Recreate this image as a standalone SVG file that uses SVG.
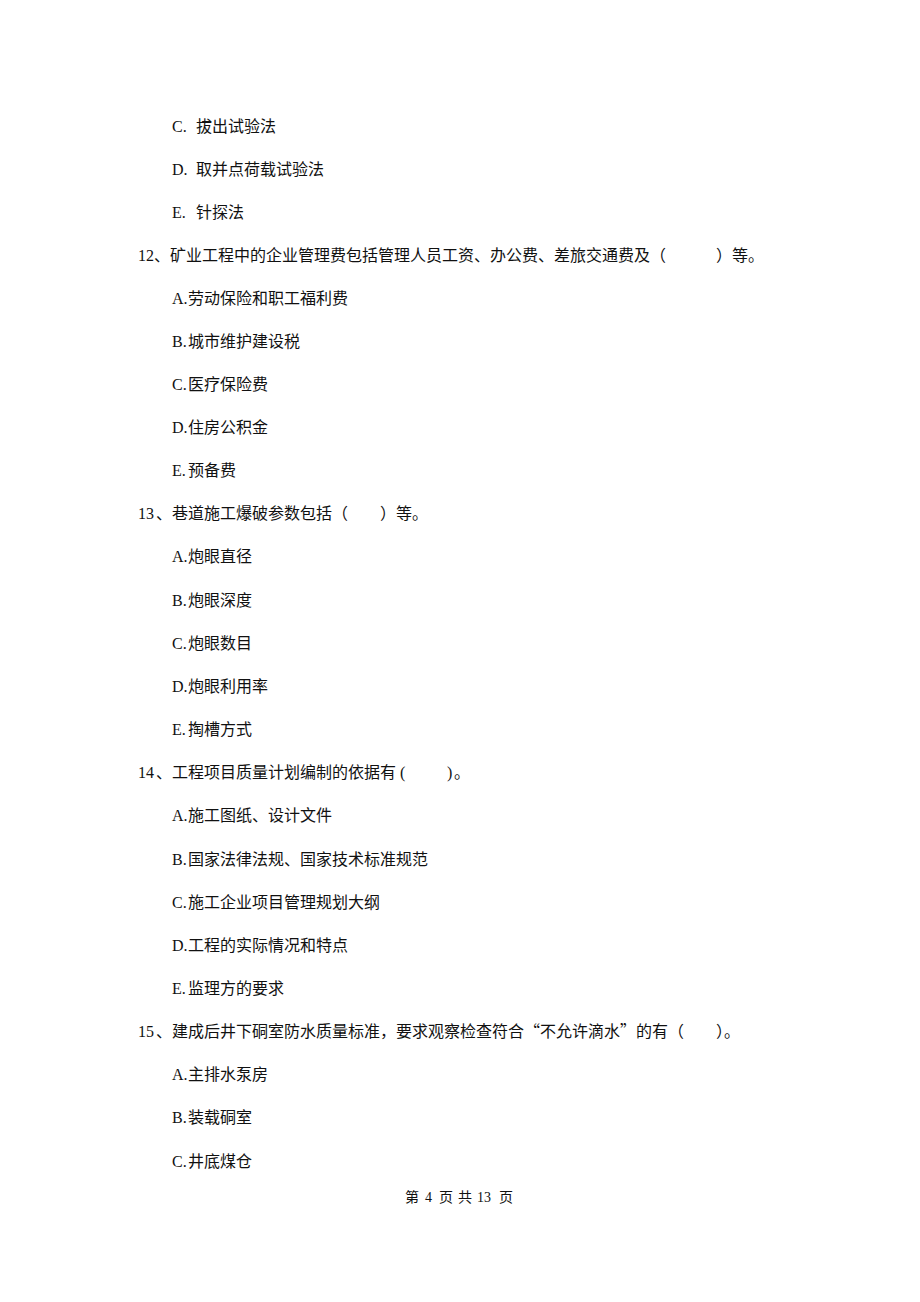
<svg xmlns="http://www.w3.org/2000/svg" width="920" height="1302" viewBox="0 0 920 1302">
<style>
text{font-family:"Liberation Serif","Noto Sans CJK SC",serif;font-size:16px;fill:#111;}
.ft{font-size:14px;}
.cjk{font-family:"Noto Sans CJK SC",sans-serif;}
</style>
<rect width="920" height="1302" fill="#fff"/>
<g id="q11-tail">
<text y="132"><tspan x="172">C.</tspan><tspan x="196">拔出试验法</tspan></text>
<text y="175"><tspan x="172">D.</tspan><tspan x="196">取并点荷载试验法</tspan></text>
<text y="218"><tspan x="172">E.</tspan><tspan x="196">针探法</tspan></text>
</g>
<g id="q12">
<text y="261"><tspan x="138">12</tspan><tspan x="154">、矿业工程中的企业管理费包括管理人员工资、办公费、差旅交通费及（</tspan><tspan x="716">）等。</tspan></text>
<text y="304"><tspan x="172">A.</tspan><tspan x="188">劳动保险和职工福利费</tspan></text>
<text y="347"><tspan x="172">B.</tspan><tspan x="188">城市维护建设税</tspan></text>
<text y="390"><tspan x="172">C.</tspan><tspan x="188">医疗保险费</tspan></text>
<text y="433"><tspan x="172">D.</tspan><tspan x="188">住房公积金</tspan></text>
<text y="476"><tspan x="172">E.</tspan><tspan x="188">预备费</tspan></text>
</g>
<g id="q13">
<text y="519"><tspan x="138">13</tspan><tspan x="156">、巷道施工爆破参数包括（</tspan><tspan x="380">）等。</tspan></text>
<text y="562"><tspan x="172">A.</tspan><tspan x="188">炮眼直径</tspan></text>
<text y="606"><tspan x="172">B.</tspan><tspan x="188">炮眼深度</tspan></text>
<text y="649"><tspan x="172">C.</tspan><tspan x="188">炮眼数目</tspan></text>
<text y="692"><tspan x="172">D.</tspan><tspan x="188">炮眼利用率</tspan></text>
<text y="735"><tspan x="172">E.</tspan><tspan x="188">掏槽方式</tspan></text>
</g>
<g id="q14">
<text y="778"><tspan x="138">14</tspan><tspan x="156">、工程项目质量计划编制的依据有</tspan><tspan x="400">(</tspan><tspan x="447">)</tspan><tspan x="454">。</tspan></text>
<text y="821"><tspan x="172">A.</tspan><tspan x="188">施工图纸、设计文件</tspan></text>
<text y="865"><tspan x="172">B.</tspan><tspan x="188">国家法律法规、国家技术标准规范</tspan></text>
<text y="908"><tspan x="172">C.</tspan><tspan x="188">施工企业项目管理规划大纲</tspan></text>
<text y="951"><tspan x="172">D.</tspan><tspan x="188">工程的实际情况和特点</tspan></text>
<text y="994"><tspan x="172">E.</tspan><tspan x="188">监理方的要求</tspan></text>
</g>
<g id="q15">
<text y="1037"><tspan x="138">15</tspan><tspan x="156">、建成后井下硐室防水质量标准，要求观察检查符合</tspan><tspan x="524" class="cjk">“</tspan><tspan x="540">不允许滴水</tspan><tspan x="620" class="cjk">”</tspan><tspan x="636">的有（</tspan><tspan x="716">）。</tspan></text>
<text y="1080"><tspan x="172">A.</tspan><tspan x="188">主排水泵房</tspan></text>
<text y="1123"><tspan x="172">B.</tspan><tspan x="188">装载硐室</tspan></text>
<text y="1167"><tspan x="172">C.</tspan><tspan x="188">井底煤仓</tspan></text>
</g>
<g id="footer">
<text class="ft" y="1202"><tspan x="405">第</tspan><tspan x="425">4</tspan><tspan x="439">页</tspan><tspan x="458">共</tspan><tspan x="477">13</tspan><tspan x="499">页</tspan></text>
</g>
</svg>
